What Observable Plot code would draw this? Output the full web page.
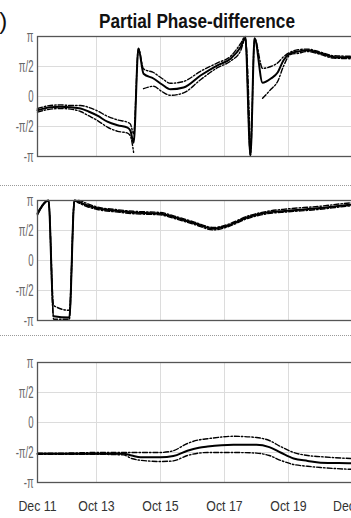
<!DOCTYPE html>
<html>
<head>
<meta charset="utf-8">
<script src="https://cdn.jsdelivr.net/npm/d3@7"></script>
<script src="https://cdn.jsdelivr.net/npm/@observablehq/plot@0.6"></script>
<style>
  html, body { margin: 0; padding: 0; background: #fff; overflow: hidden; }
  #wrap { position: relative; width: 351px; height: 518px; overflow: hidden; background: #fff;
          font-family: "Liberation Sans", Arial, sans-serif; }
  .sep { position: absolute; left: 0; width: 351px; height: 0; border-top: 1px dotted #9a9a9a; }
  #title { position: absolute; left: 37px; width: 320px; top: 11px; text-align: center;
           font-weight: bold; font-size: 20px; line-height: 20px; color: #111;
           transform: scaleX(0.86); transform-origin: 50% 50%; white-space: nowrap; }
  #tag { position: absolute; left: -22px; top: 9px; font-size: 24px; line-height: 24px; color: #111; }
</style>
</head>
<body>
<div id="wrap">
  <div class="sep" style="top:185px"></div>
  <div class="sep" style="top:335px"></div>
  <div id="tag">(b)</div>
  <div id="title">Partial Phase-difference</div>
</div>
<script>
// ---- axis ticks ----
const tickDays = [0.156, 2, 4, 6, 8, 10];
const tickLabels = ["Dec 11", "Oct 13", "Oct 15", "Oct 17", "Oct 19", "Dec 21"];
const yTicksPi = [1, 0.5, 0, -0.5, -1];
const yLabels = ["\u03c0", "\u03c0/2", "0", "-\u03c0/2", "-\u03c0"];

// ---- panel 1 (values in units of pi) ----
const p1Time  = [0.156, 0.56, 0.875, 1.19, 1.5, 1.75, 2.03, 2.34, 2.66, 2.97, 3.06, 3.16, 3.31, 3.47, 3.78, 4.05, 4.31, 4.72, 5.25, 5.78, 6.19, 6.5, 6.65, 6.81, 6.94, 7.19, 7.45, 7.66, 7.84, 8.06, 8.3, 8.59, 9.0, 9.41, 9.94, 10.6];
const p1Mid   = [-0.23, -0.18, -0.17, -0.18, -0.2, -0.25, -0.32, -0.42, -0.48, -0.52, -0.57, -0.77, 0.8, 0.38, 0.3, 0.2, 0.12, 0.15, 0.35, 0.52, 0.63, 0.82, 0.98, -0.98, 0.97, 0.23, 0.3, 0.4, 0.6, 0.72, 0.75, 0.77, 0.72, 0.66, 0.65, 0.64];
const p1Upper = [-0.2, -0.15, -0.14, -0.15, -0.15, -0.18, -0.24, -0.33, -0.39, -0.43, -0.46, -0.62, 0.8, 0.46, 0.4, 0.3, 0.22, 0.25, 0.42, 0.56, 0.67, 0.88, 1.0, -0.98, 0.97, 0.47, 0.5, 0.56, 0.66, 0.74, 0.78, 0.79, 0.74, 0.68, 0.67, 0.66];
const p1Lower = [-0.26, -0.21, -0.2, -0.21, -0.25, -0.32, -0.4, -0.51, -0.58, -0.61, -0.66, -0.93, null, 0.13, 0.17, 0.08, 0.02, 0.06, 0.28, 0.48, 0.59, 0.76, 0.96, -0.98, null, -0.03, 0.12, 0.25, 0.5, 0.7, 0.72, 0.75, 0.7, 0.64, 0.63, 0.62];

// ---- panel 2 ----
const p2Time  = [0.156, 0.5, 0.66, 1.15, 1.31, 1.44, 1.7, 2.03, 2.6, 3.16, 4.0, 4.44, 5.06, 5.66, 6.09, 6.72, 7.34, 7.97, 8.91, 9.94, 10.6];
const p2Mid   = [0.78, 1.0, -0.93, -0.95, 1.0, 0.98, 0.92, 0.87, 0.83, 0.8, 0.78, 0.72, 0.62, 0.53, 0.58, 0.72, 0.8, 0.83, 0.87, 0.93, 0.95];
const p2Upper = [0.8, 1.0, -0.75, -0.83, 1.0, 1.0, 0.95, 0.89, 0.85, 0.82, 0.8, 0.74, 0.64, 0.55, 0.6, 0.74, 0.82, 0.86, 0.9, 0.96, 0.98];
const p2Lower = [0.76, 1.0, -0.98, -0.98, 1.0, 0.96, 0.9, 0.85, 0.81, 0.78, 0.76, 0.7, 0.6, 0.51, 0.56, 0.7, 0.78, 0.81, 0.85, 0.91, 0.93];

// ---- panel 3 ----
const p3Time  = [0.156, 1.0, 2.0, 2.84, 3.1, 3.38, 4.0, 4.4, 4.84, 5.2, 5.47, 6.28, 7.0, 7.4, 7.75, 8.16, 8.6, 9.0, 9.94, 10.6];
const p3Mid   = [-0.52, -0.52, -0.52, -0.52, -0.55, -0.58, -0.58, -0.56, -0.47, -0.42, -0.4, -0.37, -0.37, -0.41, -0.5, -0.6, -0.64, -0.67, -0.68, -0.69];
const p3Upper = [-0.51, -0.51, -0.5, -0.5, -0.5, -0.5, -0.5, -0.47, -0.35, -0.29, -0.27, -0.23, -0.25, -0.3, -0.4, -0.5, -0.55, -0.57, -0.6, -0.61];
const p3Lower = [-0.53, -0.53, -0.53, -0.54, -0.6, -0.63, -0.65, -0.64, -0.55, -0.51, -0.5, -0.5, -0.51, -0.55, -0.63, -0.7, -0.73, -0.75, -0.78, -0.79];

const PI = Math.PI;
const yTicksRad = yTicksPi.map(v => v * PI);
const toRad = v => (v == null ? NaN : v * PI);

function panel(time, mid, up, lo, showX, top, marginBottom) {
  const rows = time.map((t, i) => ({t, mid: toRad(mid[i]), up: toRad(up[i]), lo: toRad(lo[i])}));
  const W = 380, ML = 37;
  const dash = {x: "t", stroke: "#000", strokeWidth: 1.4, strokeDasharray: "5,2,1.5,2", curve: "monotone-x"};
  const svg = Plot.plot({
    width: W, height: 36 + 120 + marginBottom,
    marginLeft: ML, marginRight: 0, marginTop: 36, marginBottom,
    style: {background: "transparent", maxWidth: "none", overflow: "visible",
            fontFamily: "'Liberation Sans', Arial, sans-serif", fontSize: "13px", color: "#333"},
    x: {domain: [tickDays[0], tickDays[0] + (W - ML) / 32], axis: showX ? "bottom" : null,
        ticks: tickDays, tickFormat: d => tickLabels[tickDays.indexOf(d)], tickSize: 0, tickPadding: 19, label: null},
    y: {domain: [-PI, PI], ticks: yTicksRad, tickFormat: d => yLabels[yTicksRad.indexOf(d)],
        tickSize: 0, tickPadding: 4, label: null},
    marks: [
      Plot.ruleX(tickDays, {stroke: "#dcdcdc"}),
      Plot.ruleY(yTicksRad, {stroke: "#dcdcdc"}),
      Plot.line(rows, {...dash, y: "up"}),
      Plot.line(rows, {...dash, y: "lo"}),
      Plot.line(rows, {x: "t", y: "mid", stroke: "#000", strokeWidth: 2, curve: "monotone-x"}),
      Plot.frame({stroke: "#555", strokeWidth: 1.3})
    ]
  });
  svg.style.position = "absolute";
  svg.style.left = "0px";
  svg.style.top = top + "px";
  document.getElementById("wrap").appendChild(svg);
  svg.querySelectorAll('[aria-label^="y-axis"] text').forEach(t => {
    t.style.fontSize = "16px";
    t.style.fill = "#666";
    const L = t.getComputedTextLength();
    t.setAttribute("textLength", (L * 0.6).toFixed(2));
    t.setAttribute("lengthAdjust", "spacingAndGlyphs");
  });
  svg.querySelectorAll('[aria-label^="x-axis"] text').forEach(t => {
    t.style.fontSize = "14px";
    t.style.fill = "#333";
    const L = t.getComputedTextLength();
    t.setAttribute("textLength", (L * 0.88).toFixed(2));
    t.setAttribute("lengthAdjust", "spacingAndGlyphs");
  });
  return svg;
}

panel(p1Time, p1Mid, p1Upper, p1Lower, false, 0, 4);
panel(p2Time, p2Mid, p2Upper, p2Lower, false, 164, 4);
panel(p3Time, p3Mid, p3Upper, p3Lower, true, 326, 36);
</script>
</body>
</html>
